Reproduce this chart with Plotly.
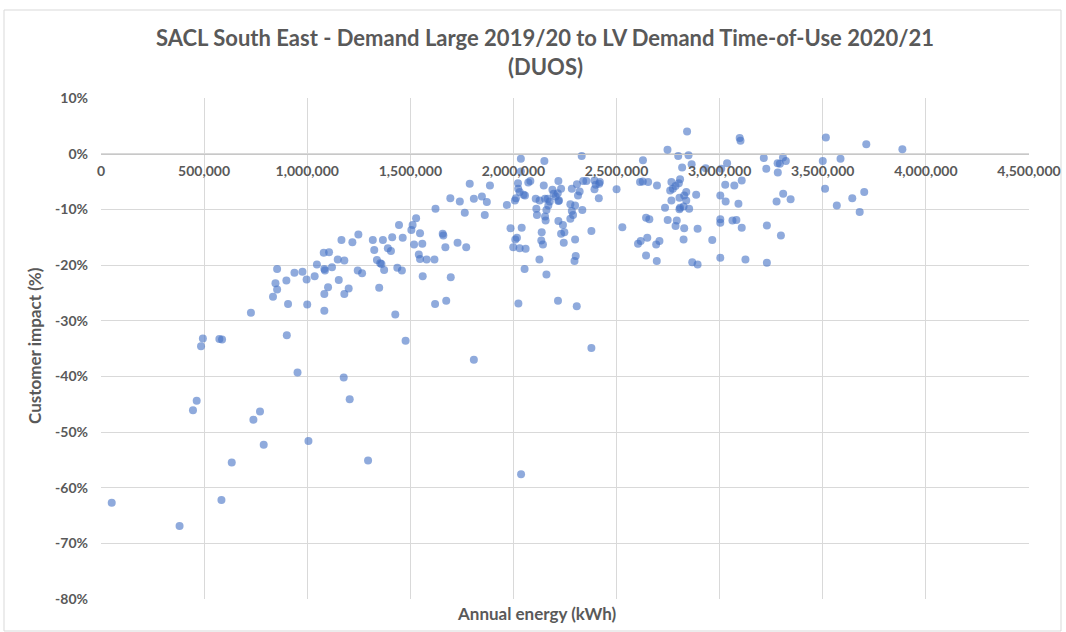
import plotly.graph_objects as go

# Annual energy (kWh) and customer impact (%)
energy_kwh = [
    1080000, 1106000, 1047000, 1083000, 1086000, 1036000, 977000, 938000, 854000, 899000,
    997000, 846000, 854000, 1101000, 834000, 1083000, 907000, 1000000, 1083000, 727000,
    901000, 494000, 574000, 587000, 485000,
    953000, 464000, 446000, 771000, 739000, 1006000, 789000, 634000, 52000, 584000, 381000,
    1427000, 1477000, 1808000, 1177000, 1206000, 1295000, 2037000,
    1120000, 1148000, 1153000, 1166000, 1180000, 1201000, 1219000, 1248000, 1180000, 1245000,
    1266000, 1318000, 1367000, 1325000, 1391000, 1406000, 1412000, 1445000, 1338000, 1354000,
    1360000, 1373000, 1349000, 1437000,
    1620000, 1674000, 2024000, 2216000,
    1463000, 1459000, 1505000, 1511000, 1528000, 1547000, 1518000, 1558000, 1541000, 1547000,
    1560000, 1579000, 1617000, 1622000, 1657000, 1660000, 1670000, 1696000, 1694000, 1729000,
    1740000, 1771000, 1764000, 1788000, 1808000, 1847000, 1861000, 1871000, 1886000, 1968000,
    1986000, 2007000, 2012000, 2009000, 2017000, 1999000, 2030000, 2059000, 2040000, 2022000,
    2023000, 2030000, 2036000, 2036000, 2049000, 2056000, 2072000, 2082000, 2054000, 2108000,
    2111000, 2114000, 2127000, 2137000, 2135000, 2143000, 2147000, 2150000, 2160000, 2126000,
    2153000, 2166000, 2176000, 2160000, 2153000, 2156000, 2169000, 2189000, 2195000, 2205000,
    2215000, 2218000, 2221000, 2218000, 2218000,
    2231000, 2283000, 2308000, 2313000, 2321000, 2331000, 2338000, 2354000, 2393000, 2399000,
    2416000, 2419000, 2393000, 2414000, 2500000, 2528000, 2276000, 2299000, 2283000, 2289000,
    2334000, 2276000, 2240000, 2247000, 2231000, 2299000, 2244000, 2302000, 2296000, 2378000,
    2628000, 2614000, 2627000, 2653000, 2696000, 2747000, 2799000, 2842000, 2849000, 2818000,
    2864000, 2766000, 2786000, 2773000, 2760000, 2802000, 2808000, 2838000, 2828000, 2838000,
    2805000, 2886000, 2766000, 2735000, 2808000, 2805000, 2825000, 2852000, 2643000, 2659000,
    2748000, 2792000, 2786000, 2828000, 2893000, 2825000, 2964000, 2604000, 2617000, 2649000,
    2692000, 2708000, 2643000, 2695000, 2867000, 2893000, 2932000, 3008000, 3036000, 3027000,
    3071000, 3107000, 3097000, 3101000, 3003000, 3029000, 3091000, 3003000, 3003000, 3062000,
    3081000, 3107000, 3003000, 3125000, 3214000, 3226000, 3281000, 3292000, 3307000, 3321000,
    3282000, 3308000, 3276000, 3344000, 3229000, 3297000, 3229000,
    2307000, 2378000,
    3515000, 3711000, 3886000, 3500000, 3586000, 3511000, 3568000, 3643000, 3701000, 3679000,
]

impact_pct = [
    -17.8, -17.7, -19.9, -20.7, -21.0, -22.0, -21.2, -21.4, -20.7, -22.8,
    -22.6, -23.3, -24.4, -24.0, -25.7, -25.2, -27.0, -27.1, -28.2, -28.6,
    -32.6, -33.2, -33.3, -33.4, -34.6,
    -39.3, -44.4, -46.1, -46.3, -47.8, -51.6, -52.3, -55.5, -62.7, -62.2, -66.9,
    -28.9, -33.6, -37.0, -40.2, -44.1, -55.1, -57.6,
    -20.4, -19.0, -22.7, -15.5, -25.2, -24.2, -15.9, -14.5, -19.2, -21.0,
    -21.5, -15.5, -15.5, -17.3, -17.0, -17.5, -15.0, -12.8, -19.1, -19.7,
    -19.8, -20.9, -24.1, -20.5,
    -27.0, -26.4, -26.9, -26.4,
    -15.1, -21.0, -13.7, -12.8, -11.6, -14.3, -16.3, -16.2, -18.1, -18.9,
    -22.0, -19.0, -19.0, -9.9, -14.4, -14.7, -16.8, -22.2, -8.0, -16.0,
    -8.6, -16.8, -10.6, -5.4, -8.1, -7.7, -11.0, -8.7, -5.7, -9.2,
    -13.4, -8.4, -8.0, -15.4, -15.1, -16.8, -17.0, -17.1, -13.3, -5.3,
    -6.3, -6.9, -0.9, -3.2, -7.4, -7.5, -5.2, -4.9, -20.7, -8.1,
    -9.9, -11.0, -8.4, -14.1, -15.6, -16.3, -5.7, -1.3, -21.7, -19.0,
    -8.1, -8.1, -8.6, -10.1, -11.3, -12.0, -9.3, -6.5, -7.2, -7.7,
    -7.1, -8.5, -8.4, -4.9, -12.1,
    -6.3, -6.3, -5.5, -7.5, -6.8, -0.4, -4.9, -4.9, -4.8, -5.6,
    -5.4, -5.1, -6.4, -8.0, -6.4, -13.2, -9.1, -9.3, -10.3, -11.0,
    -10.1, -11.7, -12.8, -14.1, -14.4, -15.4, -16.0, -18.4, -19.3, -13.9,
    -1.2, -5.1, -5.0, -5.1, -5.7, 0.7, -0.4, 4.0, -0.3, -2.5,
    -1.9, -5.1, -5.8, -6.3, -6.6, -5.3, -4.6, -6.9, -7.5, -8.4,
    -7.9, -7.4, -8.4, -9.7, -9.7, -10.0, -9.5, -9.9, -11.5, -11.8,
    -11.9, -12.0, -13.0, -13.4, -13.5, -15.4, -15.5, -16.2, -15.7, -15.1,
    -16.3, -15.7, -18.3, -19.3, -19.5, -19.9, -2.6, -2.7, -1.7, -5.6,
    -5.7, -4.8, 2.8, 2.3, -7.5, -8.6, -9.0, -11.8, -12.4, -12.0,
    -11.9, -13.3, -18.7, -19.0, -0.8, -2.7, -1.7, -1.8, -0.7, -1.3,
    -3.4, -7.2, -8.6, -8.2, -12.9, -14.7, -19.6,
    -27.4, -34.9,
    2.9, 1.7, 0.8, -1.3, -0.9, -6.3, -9.3, -8.0, -6.9, -10.5,
]

x_tick_vals = [0, 500000, 1000000, 1500000, 2000000, 2500000, 3000000, 3500000, 4000000, 4500000]
x_tick_text = ["0", "500,000", "1,000,000", "1,500,000", "2,000,000", "2,500,000",
               "3,000,000", "3,500,000", "4,000,000", "4,500,000"]
y_tick_vals = [-80, -70, -60, -50, -40, -30, -20, -10, 0, 10]
y_tick_text = ["-80%", "-70%", "-60%", "-50%", "-40%", "-30%", "-20%", "-10%", "0%", "10%"]

title_line1 = "SACL South East - Demand Large 2019/20 to LV Demand Time-of-Use 2020/21"
title_line2 = "(DUOS)"

W, H = 1066, 632
L, R, T, B = 101, 37, 98, 33
pw, ph = W - L - R, H - T - B

def px_to_paper_x(px):
    return (px - L) / pw

def px_to_paper_y(py):
    return (H - B - py) / ph

FONT = "Lato"
GREY = "#595959"
GRID = "#d9d9d9"

fig = go.Figure()
fig.add_trace(go.Scatter(
    x=energy_kwh, y=impact_pct, mode="markers",
    marker=dict(size=8, color="rgba(68,114,196,0.6)", line=dict(width=0)),
    hoverinfo="x+y", showlegend=False,
))

fig.update_layout(
    width=W, height=H,
    margin=dict(l=L, r=R, t=T, b=B, autoexpand=False),
    paper_bgcolor="white", plot_bgcolor="white",
    font=dict(family=FONT, color=GREY),
    xaxis=dict(
        range=[0, 4500000], tickmode="array", tickvals=x_tick_vals, ticktext=x_tick_text,
        showgrid=True, gridcolor=GRID, gridwidth=1, zeroline=False,
        showline=True, linecolor="#c8c8c8", linewidth=1,
        anchor="free", position=80 / 90, side="bottom", ticks="",
        ticklabelstandoff=5,
        tickfont=dict(family=FONT, size=14, color=GREY, weight="bold"),
    ),
    yaxis=dict(
        range=[-80, 10], tickmode="array", tickvals=y_tick_vals, ticktext=y_tick_text,
        showgrid=True, gridcolor=GRID, gridwidth=1, zeroline=False,
        showline=False, ticks="", ticklabelstandoff=12,
        tickfont=dict(family=FONT, size=14, color=GREY, weight="bold"),
    ),
    shapes=[
        dict(type="rect", xref="paper", yref="paper",
             x0=px_to_paper_x(4), x1=px_to_paper_x(1061),
             y0=px_to_paper_y(631), y1=px_to_paper_y(10),
             line=dict(color=GRID, width=1), fillcolor="rgba(0,0,0,0)", layer="below"),
    ],
    annotations=[
        dict(text=title_line1, xref="paper", yref="paper",
             x=px_to_paper_x(545), y=px_to_paper_y(38),
             xanchor="center", yanchor="middle", showarrow=False,
             font=dict(family=FONT, size=22, color=GREY, weight="bold")),
        dict(text=title_line2, xref="paper", yref="paper",
             x=px_to_paper_x(545), y=px_to_paper_y(66),
             xanchor="center", yanchor="middle", showarrow=False,
             font=dict(family=FONT, size=22, color=GREY, weight="bold")),
        dict(text="Customer impact (%)", xref="paper", yref="paper",
             x=px_to_paper_x(34), y=px_to_paper_y(346), textangle=-90,
             xanchor="center", yanchor="middle", showarrow=False,
             font=dict(family=FONT, size=17, color=GREY, weight="bold")),
        dict(text="Annual energy (kWh)", xref="paper", yref="paper",
             x=px_to_paper_x(537), y=px_to_paper_y(613),
             xanchor="center", yanchor="middle", showarrow=False,
             font=dict(family=FONT, size=17, color=GREY, weight="bold")),
    ],
)

fig.write_html(
    "out.html",
    config={"displayModeBar": False},
    post_script="document.body.style.margin='0px';document.body.style.overflow='hidden';",
)
